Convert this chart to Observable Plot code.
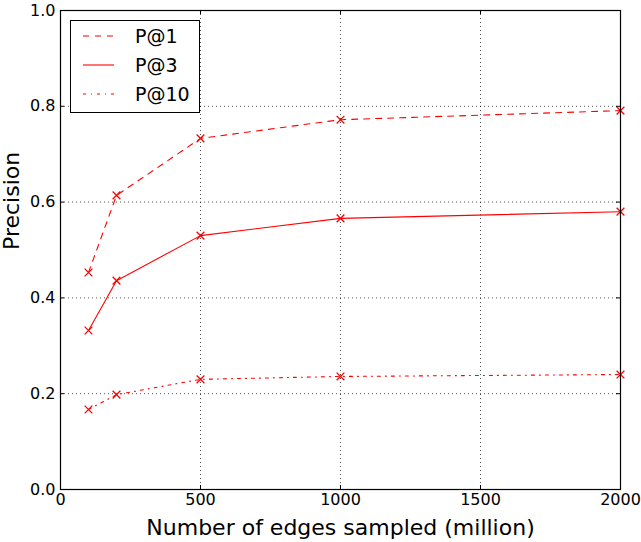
<!DOCTYPE html>
<html>
<head>
<meta charset="utf-8">
<script src="https://cdn.jsdelivr.net/npm/d3@7"></script>
<script src="https://cdn.jsdelivr.net/npm/@observablehq/plot@0.6"></script>
<style>
  body { margin: 0; background: #fff; }
  #chart { position: relative; width: 641px; height: 542px; }
</style>
</head>
<body>
<div id="chart"></div>
<script>
const edges = [100, 200, 500, 1000, 2000];
const p1 = [0.453, 0.614, 0.733, 0.772, 0.791];
const p3 = [0.332, 0.436, 0.530, 0.566, 0.580];
const p10 = [0.167, 0.198, 0.230, 0.236, 0.240];
const seriesNames = ["P@1", "P@3", "P@10"];
const seriesValues = [p1, p3, p10];
const xTicks = [0, 500, 1000, 1500, 2000];
const yTicks = [0.0, 0.2, 0.4, 0.6, 0.8, 1.0];
const xLabel = "Number of edges sampled (million)";
const yLabel = "Precision";

const dashes = {"P@1": "6,6", "P@3": null, "P@10": "3,5,1,5"};
const rows = [];
seriesNames.forEach((s, i) => edges.forEach((e, j) => rows.push({series: s, x: e, y: seriesValues[i][j]})));

const font = "DejaVu Sans, sans-serif";
const lineMarks = seriesNames.map(s => Plot.line(rows.filter(r => r.series === s), {
  x: "x", y: "y", stroke: "red", strokeWidth: 1.1,
  strokeDasharray: dashes[s] || undefined
}));

const chart = Plot.plot({
  width: 641, height: 542,
  marginLeft: 60, marginRight: 21, marginTop: 10, marginBottom: 53,
  style: {fontFamily: font, background: "#fff", color: "#000"},
  x: {domain: [0, 2000], ticks: xTicks},
  y: {domain: [0, 1], ticks: yTicks},
  marks: [
    Plot.gridX(xTicks, {stroke: "#000", strokeOpacity: 0.85, strokeWidth: 0.8, strokeDasharray: "1,3"}),
    Plot.gridY(yTicks, {stroke: "#000", strokeOpacity: 0.85, strokeWidth: 0.8, strokeDasharray: "1,3"}),
    Plot.ruleX(xTicks, {x: d => d, y1: 0, y2: 0, insetTop: -4, stroke: "#000"}),
    Plot.ruleX(xTicks, {x: d => d, y1: 1, y2: 1, insetBottom: -4, stroke: "#000"}),
    Plot.ruleY(yTicks, {y: d => d, x1: 0, x2: 0, insetRight: -4, stroke: "#000"}),
    Plot.ruleY(yTicks, {y: d => d, x1: 2000, x2: 2000, insetLeft: -4, stroke: "#000"}),
    ...lineMarks,
    Plot.dot(rows, {x: "x", y: "y", symbol: "times", r: 3.6, stroke: "red", strokeWidth: 1.3}),
    Plot.frame({stroke: "#000", strokeWidth: 1.2}),
    Plot.axisX(xTicks, {tickSize: 0, tickPadding: 4, fontSize: 16, tickFormat: d3.format("d"), label: null}),
    Plot.axisY(yTicks, {tickSize: 0, tickPadding: 5, fontSize: 16, tickFormat: d3.format(".1f"), label: null}),
    Plot.text([xLabel], {frameAnchor: "bottom", dy: 45, fontSize: 22, fill: "#000"}),
    Plot.text([yLabel], {frameAnchor: "left", dx: -49, rotate: -90, fontSize: 22, fill: "#000"})
  ]
});

// Legend
const svg = d3.select(chart);
const lg = svg.append("g").attr("font-family", font).attr("text-anchor", "start");
lg.append("rect").attr("x", 70.5).attr("y", 20.5).attr("width", 129).attr("height", 92)
  .attr("fill", "#fff").attr("stroke", "#000").attr("stroke-width", 1);
seriesNames.forEach((s, i) => {
  const y = 36 + i * 29;
  lg.append("line").attr("x1", 83).attr("x2", 114).attr("y1", y).attr("y2", y)
    .attr("stroke", "red").attr("stroke-width", 1.1)
    .attr("stroke-dasharray", dashes[s] || null);
  lg.append("text").attr("x", 135).attr("y", y).attr("dy", "0.35em")
    .attr("text-anchor", "start")
    .attr("font-size", 19).attr("fill", "#000").text(s);
});

document.getElementById("chart").appendChild(chart);
</script>
</body>
</html>
